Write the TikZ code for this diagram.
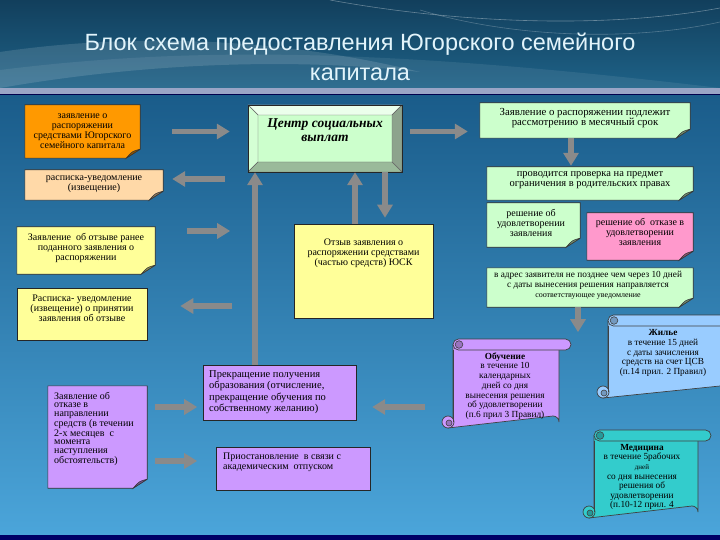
\documentclass[tikz,border=0pt]{standalone}
\usepackage{fontspec}
\setmainfont{Liberation Serif}
\newfontfamily\titlefont{Liberation Sans}
\usetikzlibrary{calc,arrows.meta,backgrounds}
\definecolor{bandtop}{HTML}{123F5C}
\definecolor{bandbot}{HTML}{1E6288}
\definecolor{mainTop}{HTML}{1A5C8A}
\definecolor{mainBot}{HTML}{4BA5DA}
\definecolor{barcol}{HTML}{9AA5C6}
\definecolor{titlecol}{HTML}{E2F4FB}
\definecolor{orangec}{HTML}{FF9900}
\definecolor{peachc}{HTML}{FFD9A8}
\definecolor{greenc}{HTML}{CCFFCC}
\definecolor{pinkc}{HTML}{FF99CC}
\definecolor{yellowc}{HTML}{FFFF99}
\definecolor{purplec}{HTML}{CC99FF}
\definecolor{bluec}{HTML}{99CCFF}
\definecolor{tealc}{HTML}{33CCCC}
\definecolor{arrgray}{HTML}{8A8A8A}
\newcommand\bx{\fontsize{10}{10}\selectfont}
\newcommand\notebg[2]{%
  \begin{scope}[on background layer]
  \filldraw[fill=#2, draw=black!80, line width=0.6pt] (#1.north west) -- (#1.north east) -- ($(#1.south east)+(0,-9)$) -- ($(#1.south east)+(-14,0)$) -- (#1.south west) -- cycle;
  \filldraw[fill=#2!55!black, draw=black!80, line width=0.5pt] ($(#1.south east)+(0,-9)$) -- ($(#1.south east)+(-14,0)$) .. controls ($(#1.south east)+(-8,-7)$) .. ($(#1.south east)+(0,-9)$);
  \end{scope}}
% scroll: #1 body left, #2 roll top, #3 roll right, #4 body right, #5 body bottom, #6 colour
\newcommand\scrollshape[6]{%
  \begin{scope}[on background layer]
  \filldraw[fill=#6, draw=black!75, line width=0.7pt] (#1,#2+6) -- (#4,#2+6) -- (#4,#5-6) arc[start angle=0,end angle=-90,radius=6] -- (#1-5,#5) -- (#1-5,#5-6) -- (#1,#5-6) -- cycle;
  \filldraw[fill=#6, draw=black!75, line width=0.7pt, rounded corners=5.5pt] (#1,#2) rectangle (#3,#2+11);
  \filldraw[fill=#6!75!black, draw=black!75, line width=0.6pt] (#1+6,#2+5.5) circle[radius=3.8];
  \filldraw[fill=#6, draw=black!75, line width=0.7pt] (#1-5,#5-6) circle[radius=6];
  \filldraw[fill=#6!75!black, draw=black!75, line width=0.6pt] (#1-4,#5-5) circle[radius=3];
  \draw[black!75, line width=0.7pt] (#1,#5-6) -- (#1,#2+11);
  \end{scope}}
\tikzset{
  txt/.style={align=center, font=\bx, text=black, inner sep=1pt},
  ltxt/.style={align=left, font=\bx, text=black, inner sep=1pt},
  shp/.style={draw=none, fill=none, inner sep=0pt},
  plainbox/.style={draw=black!85, line width=0.6pt, inner sep=0pt},
  barrow/.style={draw=arrgray, line width=5.5pt, -{Triangle[width=15pt,length=13pt]}},
}
\begin{document}
\begin{tikzpicture}[x=1pt,y=-1pt]
\useasboundingbox (0,0) rectangle (720,540);
\begin{scope}[on background layer]
  \shade[top color=bandtop, bottom color=bandbot] (0,0) rectangle (720,88);
  \fill[white, opacity=0.13] (0,52) .. controls (150,30) and (300,42) .. (420,72) .. controls (300,58) and (150,62) .. (0,88) -- cycle;
  \fill[white, opacity=0.08] (0,70) .. controls (200,45) and (400,50) .. (720,88) -- (0,88) -- cycle;
  \draw[white, opacity=0.35, line width=0.6pt] (330,0) .. controls (450,22) and (600,30) .. (720,8);
  \draw[white, opacity=0.25, line width=0.6pt] (420,10) .. controls (520,40) and (640,40) .. (720,22);
  \fill[barcol] (0,88) rectangle (720,94);
  \fill[black!70!blue] (0,94) rectangle (720,96);
  \shade[top color=mainTop, bottom color=mainBot] (0,96) rectangle (720,535);
  \fill[black!60!blue] (0,535) rectangle (720,540);
\end{scope}

\node[font=\titlefont\fontsize{23.5}{30}\selectfont, text=titlecol, align=center] (title) at (360,57) {Блок схема предоставления Югорского семейного\\капитала};

% left column notes
\node[shp, minimum width=115pt, minimum height=53pt] (b1) at (82.5,131.5) {};
\notebg{b1}{orangec}
\node[txt] (b1t) at (82.5,131) {заявление о\\распоряжении\\средствами Югорского\\семейного капитала};

\node[shp, minimum width=138pt, minimum height=30pt] (b2) at (94,185) {};
\notebg{b2}{peachc}
\node[txt] (b2t) at (94,184) {расписка-уведомление\\(извещение)};

\node[shp, minimum width=138pt, minimum height=47pt] (b9) at (86,250.5) {};
\notebg{b9}{yellowc}
\node[txt] (b9t) at (86,248) {Заявление\ \ об отзыве ранее\\поданного заявления о\\распоряжении};

\node[plainbox, fill=yellowc, minimum width=130pt, minimum height=52pt] (b10) at (82,314) {};
\node[txt] (b10t) at (82,308) {Расписка- уведомление\\(извещение) о принятии\\заявления об отзыве};

\node[shp, minimum width=99pt, minimum height=102pt] (b12) at (97.5,437) {};
\notebg{b12}{purplec}
\node[ltxt, anchor=north west, font=\fontsize{10}{8.6}\selectfont] (b12t) at (53,391) {Заявление об\\отказе в\\направлении\\средств (в течении\\2-х месяцев\ \ с\\момента\\наступления\\обстоятельств)};

% centre
\draw[black!85, line width=0.6pt, fill=greenc] (248,105) rectangle (402,172);
\filldraw[fill=green!8!white, draw=black!60, line width=0.4pt] (248,105) -- (402,105) -- (392,115) -- (258,115) -- cycle;
\filldraw[fill=greenc!85!white, draw=black!60, line width=0.4pt] (248,105) -- (258,115) -- (258,162) -- (248,172) -- cycle;
\filldraw[fill=greenc!55!black!80, draw=black!60, line width=0.4pt] (402,105) -- (392,115) -- (392,162) -- (402,172) -- cycle;
\filldraw[fill=greenc!70!black!90, draw=black!60, line width=0.4pt] (248,172) -- (258,162) -- (392,162) -- (402,172) -- cycle;
\draw[black!85, line width=0.6pt] (248,105) rectangle (402,172);
\node[shp, minimum width=154pt, minimum height=67pt] (cent) at (325,138.5) {};
\node[txt, font=\fontsize{13.5}{14}\selectfont\bfseries\itshape] (centt) at (325,130) {Центр социальных\\выплат};

\node[plainbox, fill=yellowc, minimum width=139pt, minimum height=94pt] (b11) at (363.5,271) {};
\node[txt] (b11t) at (363.5,253) {Отзыв заявления о\\распоряжении средствами\\(частью средств) ЮСК};

\draw[black!85, line width=0.6pt, fill=purplec] (203,365) rectangle (356,420);
\node[shp, minimum width=153pt, minimum height=55pt] (b13) at (279.5,392.5) {};
\node[ltxt, anchor=north west, font=\fontsize{10.5}{11.5}\selectfont] (b13t) at (208,369) {Прекращение получения\\образования (отчисление,\\прекращение обучения по\\собственному желанию)};

\node[plainbox, fill=purplec, minimum width=154pt, minimum height=43pt] (b14) at (293,468.5) {};
\node[ltxt, anchor=north west] (b14t) at (222,452) {Приостановление\ \ в связи с\\академическим\ \ отпуском};

% right column
\node[shp, minimum width=210pt, minimum height=35pt] (b4) at (585,120.5) {};
\notebg{b4}{greenc}
\node[txt, font=\fontsize{10.8}{10.5}\selectfont] (b4t) at (585,118) {Заявление о распоряжении подлежит\\рассмотрению в месячный срок};

\node[shp, minimum width=206pt, minimum height=33pt] (b5) at (590,183.5) {};
\notebg{b5}{greenc}
\node[txt, font=\fontsize{10.5}{10.5}\selectfont] (b5t) at (590,180) {проводится проверка на предмет\\ограничения в родительских правах};

\node[shp, minimum width=93pt, minimum height=44pt] (b6) at (533.5,225) {};
\notebg{b6}{greenc}
\node[txt] (b6t) at (531,223) {решение об\\удовлетворении\\заявления};

\node[shp, minimum width=106pt, minimum height=47pt] (b7) at (640,236.5) {};
\notebg{b7}{pinkc}
\node[txt] (b7t) at (640,232) {решение об\ \ отказе в\\удовлетворении\\заявления};

\node[shp, minimum width=206pt, minimum height=39pt] (b8) at (590,287.5) {};
\notebg{b8}{greenc}
\node[txt, font=\fontsize{9.3}{10}\selectfont] (b8t) at (588,285) {в адрес заявителя не позднее чем через 10 дней\\с даты вынесения решения направляется\\{\fontsize{8}{10}\selectfont соответствующее уведомление}};

% scrolls
\scrollshape{453}{339}{571}{559}{428}{purplec}
\node[shp, minimum width=106pt, minimum height=78pt] (s15) at (506,389) {};
\node[txt, font=\fontsize{9.3}{9.7}\selectfont] (s15t) at (505,386) {\textbf{Обучение}\\в течение 10\\календарных\\дней со дня\\вынесения решения\\об удовлетворении\\(п.6 прил 3 Правил)};

\scrollshape{608}{315}{726}{726}{398}{bluec}
\node[shp, minimum width=112pt, minimum height=71pt] (s16) at (664,362) {};
\node[txt, font=\fontsize{9.3}{9.6}\selectfont] (s16t) at (663,353) {\textbf{Жилье}\\в течение 15 дней\\с даты зачисления\\средств на счет ЦСВ\\(п.14 прил. 2 Правил)};

\scrollshape{594}{430}{711}{698}{518}{tealc}
\node[shp, minimum width=104pt, minimum height=77pt] (s17) at (646,479) {};
\node[txt, font=\fontsize{9.3}{9.6}\selectfont] (s17t) at (642,477) {\textbf{Медицина}\\в течение 5рабочих\\{\fontsize{7}{8}\selectfont дней}\\со дня вынесения\\решения об\\удовлетворении\\(п.10-12 прил. 4};

% arrows
\draw[barrow] ($(b1.east)+(32,0)$) -- ($(cent.west)+(-18,-7)$);
\draw[barrow] ($(cent.west)+(-23,40.5)$) -- ($(b2.east)+(9,-6)$);
\draw[barrow] ($(cent.east)+(8,-7)$) -- ($(b4.west)+(-12,11)$);
\draw[barrow] ($(b4.south)+(-14,0)$) -- ($(b5.north)+(-19,-1)$);
\draw[barrow] ($(b13.north)+(-24.5,0)$) -- ($(cent.south)+(-70,0)$);
\draw[barrow] ($(b11.north)+(-8.5,0)$) -- ($(cent.south)+(30,0)$);
\draw[barrow] ($(cent.south)+(60,0)$) -- ($(b11.north)+(21.5,-6)$);
\draw[barrow] ($(b9.east)+(32,-19.5)$) -- ($(b9.east)+(75,-19.5)$);
\draw[barrow] ($(b10.east)+(85,-8)$) -- ($(b10.east)+(33,-8)$);
\draw[barrow] ($(b8.south)+(-12,0)$) -- ($(b8.south)+(-12,25)$);
\draw[barrow] ($(s15.west)+(-28,18)$) -- ($(b13.east)+(16,14.5)$);
\draw[barrow] ($(b12.east)+(8,-30)$) -- ($(b12.east)+(50,-30)$);
\draw[barrow] ($(b12.east)+(8,24)$) -- ($(b12.east)+(50,24)$);
\end{tikzpicture}
\end{document}
